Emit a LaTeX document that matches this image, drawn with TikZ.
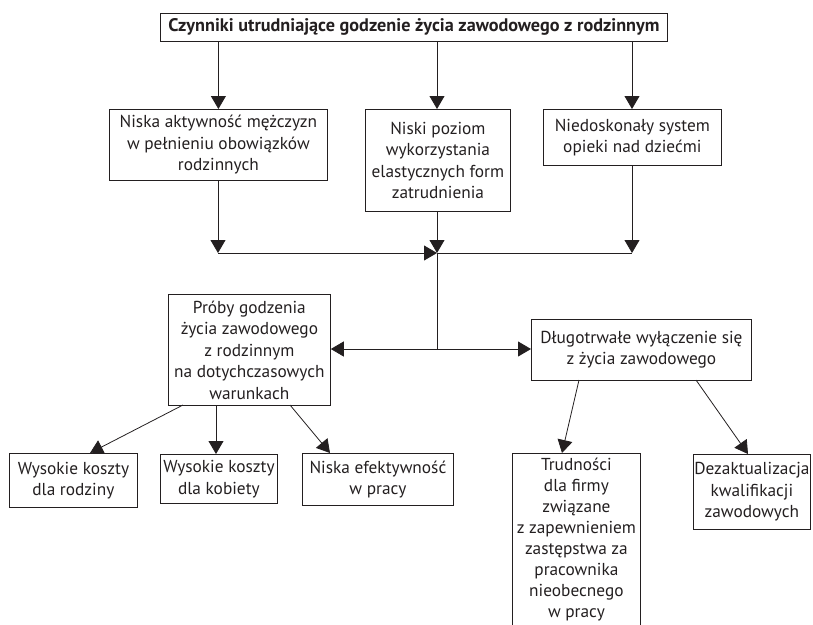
\documentclass[tikz,border=0pt]{standalone}
\usepackage{fontspec}
\setmainfont{PT Sans}
\usetikzlibrary{arrows.meta}
\definecolor{ink}{RGB}{35,31,32}
\tikzset{
  box/.style={draw=ink, line width=0.8pt, align=center, inner sep=0pt, anchor=north west,
    font=\fontsize{17.3}{21.5}\selectfont, text=ink},
  con/.style={draw=ink, line width=0.8pt},
  arr/.style={con, -{Triangle[length=13pt,width=15pt]}},
}
\begin{document}
\begin{tikzpicture}[x=1pt,y=-1pt]
\useasboundingbox (0,0) rectangle (813,624);
\node[box, minimum width=507pt, minimum height=28pt, font=\fontsize{18.2}{20}\selectfont\bfseries] (T) at (160,13)
  {Czynniki utrudniające godzenie życia zawodowego z rodzinnym};
\node[box, minimum width=218pt, minimum height=71pt] (A) at (109,109)
  {Niska aktywność mężczyzn\\w pełnieniu obowiązków\\rodzinnych};
\node[box, minimum width=145pt, minimum height=102pt] (B) at (365,109)
  {Niski poziom\\wykorzystania\\elastycznych form\\zatrudnienia};
\node[box, minimum width=178pt, minimum height=56pt] (C) at (543,109)
  {Niedoskonały system\\opieki nad dziećmi};
\node[box, minimum width=162pt, minimum height=111pt] (D) at (168,294)
  {Próby godzenia\\życia zawodowego\\z rodzinnym\\na dotychczasowych\\warunkach};
\node[box, minimum width=220pt, minimum height=61pt] (E) at (531,319)
  {Długotrwałe wyłączenie się\\z życia zawodowego};
\node[box, minimum width=128pt, minimum height=54pt] (F) at (9,453)
  {Wysokie koszty\\dla rodziny};
\node[box, minimum width=117pt, minimum height=49pt] (G) at (160,454)
  {Wysokie koszty\\dla kobiety};
\node[box, minimum width=151pt, minimum height=52pt] (H) at (302,453)
  {Niska efektywność\\w pracy};
\node[box, minimum width=128pt, minimum height=172pt, font=\fontsize{17.3}{21}\selectfont] (I) at (512,453)
  {Trudności\\dla firmy\\związane\\z zapewnieniem\\zastępstwa za\\pracownika\\nieobecnego\\w pracy};
\node[box, minimum width=117pt, minimum height=75pt] (J) at (693,454)
  {Dezaktualizacja\\kwalifikacji\\zawodowych};
% junction points
\coordinate (jA) at (218,253);
\coordinate (jB) at (437,253);
\coordinate (jC) at (632,253);
\coordinate (jM) at (437,349);
% title to first row
\draw[arr] (T.south -| A.south) -- (A.north);
\draw[arr] (T.south -| jB) -- (B.north -| jB);
\draw[arr] (T.south -| jC) -- (C.north -| jC);
% first row to junction
\draw[arr] (A.south -| jA) -- (jA);
\draw[arr] (B.south -| jB) -- (jB);
\draw[arr] (C.south -| jC) -- (jC);
\draw[arr] (jA) -- (jB);
\draw[con] (jB) -- (jC);
\draw[con] (jB) -- (jM);
\draw[arr] (jM) -- (D.east |- jM);
\draw[arr] (jM) -- (E.west |- jM);
% from D
\coordinate (d1) at (183,405);
\coordinate (d2) at (216,405);
\coordinate (d3) at (290,405);
\draw[arr] (d1) -- (F.north -| 90,0);
\draw[arr] (d2) -- (G.north -| d2);
\draw[arr] (d3) -- (H.north -| 330,0);
% from E
\coordinate (e1) at (579,380);
\coordinate (e2) at (696,380);
\draw[arr] (e1) -- (I.north -| 562,0);
\draw[arr] (e2) -- (J.north -| 748,0);
\end{tikzpicture}
\end{document}
